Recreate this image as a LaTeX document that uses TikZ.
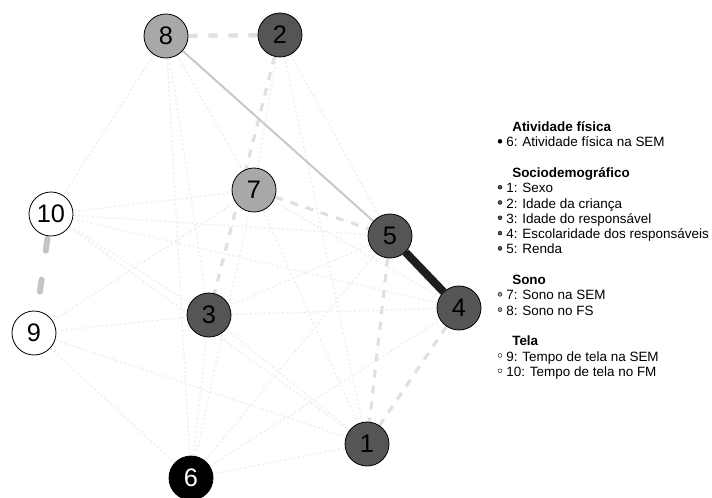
\documentclass[tikz,border=0pt]{standalone}
\usepackage{fontspec}
\setmainfont{Liberation Sans}
\usetikzlibrary{backgrounds}
\definecolor{lightnode}{RGB}{168,168,168}
\definecolor{darknode}{RGB}{85,85,85}
\definecolor{faintc}{RGB}{239,239,239}
\definecolor{midc}{RGB}{224,224,224}
\definecolor{strongc}{RGB}{200,200,200}
\definecolor{thickc}{RGB}{196,196,196}
\definecolor{blackedge}{RGB}{30,30,30}
\begin{document}
\begin{tikzpicture}[x=0.75pt,y=-0.75pt,
  vnode/.style={circle, draw=black, line width=0.6pt, minimum size=33pt, inner sep=0pt,
    font=\fontsize{19}{19}\selectfont},
  faintedge/.style={draw=faintc, line width=1.1pt, dash pattern=on 1.6pt off 1.8pt},
  midedge/.style={draw=midc, line width=2.4pt, dash pattern=on 6pt off 6pt},
  grptitle/.style={anchor=base west, inner sep=0pt, font=\fontsize{10.1}{12}\selectfont\bfseries},
  item/.style={anchor=base west, inner sep=0pt, font=\fontsize{10.1}{12}\selectfont},
  bullet/.style={circle, draw=black, line width=0.3pt, minimum size=3pt, inner sep=0pt}
]
\useasboundingbox (0,0) rectangle (712,498);
\clip (0,0) rectangle (712,498);
% nodes
\node[vnode, fill=darknode] (n1) at (367,444) {1};
\node[vnode, fill=darknode] (n2) at (280,35) {2};
\node[vnode, fill=darknode] (n3) at (209,315) {3};
\node[vnode, fill=darknode] (n4) at (459,308) {4};
\node[vnode, fill=darknode] (n5) at (390,236) {5};
\node[vnode, fill=black, text=white] (n6) at (191,478) {6};
\node[vnode, fill=lightnode] (n7) at (254,190) {7};
\node[vnode, fill=lightnode] (n8) at (166,36) {8};
\node[vnode, fill=white] (n9) at (34,333) {9};
\node[vnode, fill=white] (n10) at (51,214) {10};
\begin{scope}[on background layer]
% faint dotted edges
\foreach \a/\b in {8/10,8/6,8/3,8/7,2/5,2/1,2/7,10/7,10/5,10/3,10/4,9/3,9/7,9/6,9/1,6/1,6/5,6/4,6/3,6/7,3/1,3/4,3/5,7/4,7/1,5/4,10/1}
  \draw[faintedge] (n\a.center) -- (n\b.center);
% medium dashed edges
\draw[midedge] (n7) -- (n5);
\draw[midedge] (n2) -- (n3);
\draw[midedge] (n5) -- (n1);
\draw[midedge] (n4) -- (n1);
\draw[draw=midc, line width=3.2pt, dash pattern=on 7pt off 8pt] (n8) -- (n2);
% strong edges
\draw[draw=strongc, line width=1.5pt] (n8) -- (n5);
\draw[draw=thickc, line width=4.5pt, line cap=round, dash pattern=on 9pt off 22pt, dash phase=-2pt] (n10) -- (n9);
\draw[draw=blackedge, line width=6pt] (n5) -- (n4);
\end{scope}
% legend
\def\ls{15.3}
\node[grptitle] (t1) at (512,{127+4.6}) {Atividade física};
\node[item] (i6) at (506,{127+1*\ls+4.6}) {6: Atividade física na SEM};
\node[grptitle] (t2) at (512,{127+3*\ls+4.6}) {Sociodemográfico};
\node[item] (i1) at (506,{127+4*\ls+4.6}) {1: Sexo};
\node[item] (i2) at (506,{127+5*\ls+4.6}) {2: Idade da criança};
\node[item] (i3) at (506,{127+6*\ls+4.6}) {3: Idade do responsável};
\node[item] (i4) at (506,{127+7*\ls+4.6}) {4: Escolaridade dos responsáveis};
\node[item] (i5) at (506,{127+8*\ls+4.6}) {5: Renda};
\node[grptitle] (t3) at (512,{127+10*\ls+4.6}) {Sono};
\node[item] (i7) at (506,{127+11*\ls+4.6}) {7: Sono na SEM};
\node[item] (i8) at (506,{127+12*\ls+4.6}) {8: Sono no FS};
\node[grptitle] (t4) at (512,{127+14*\ls+4.6}) {Tela};
\node[item] (i9) at (506,{127+15*\ls+4.6}) {9: Tempo de tela na SEM};
\node[item] (i10) at (506,{127+16*\ls+4.6}) {10: Tempo de tela no FM};
\node[bullet, fill=black] (b6) at (500,{127+1*\ls-1}) {};
\node[bullet, fill=darknode] (b1) at (500,{127+4*\ls-1}) {};
\node[bullet, fill=darknode] (b2) at (500,{127+5*\ls-1}) {};
\node[bullet, fill=darknode] (b3) at (500,{127+6*\ls-1}) {};
\node[bullet, fill=darknode] (b4) at (500,{127+7*\ls-1}) {};
\node[bullet, fill=darknode] (b5) at (500,{127+8*\ls-1}) {};
\node[bullet, fill=lightnode] (b7) at (500,{127+11*\ls-1}) {};
\node[bullet, fill=lightnode] (b8) at (500,{127+12*\ls-1}) {};
\node[bullet, fill=white] (b9) at (500,{127+15*\ls-1}) {};
\node[bullet, fill=white] (b10) at (500,{127+16*\ls-1}) {};
\end{tikzpicture}
\end{document}
